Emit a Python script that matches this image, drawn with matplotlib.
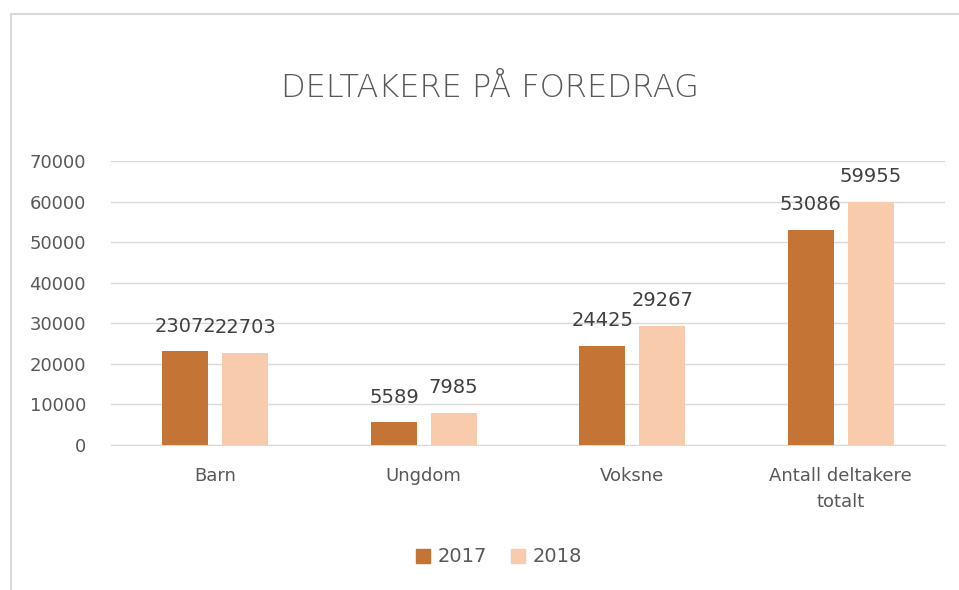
import numpy as np
import matplotlib
matplotlib.use('Agg')
import matplotlib.pyplot as plt
from matplotlib.lines import Line2D
from matplotlib.patches import Patch

# data
categories = ['Barn', 'Ungdom', 'Voksne', 'Antall deltakere\ntotalt']
years = ['2017', '2018']
vals_2017 = [23072, 5589, 24425, 53086]
vals_2018 = [22703, 7985, 29267, 59955]
yticks = [0, 10000, 20000, 30000, 40000, 50000, 60000, 70000]

col_2017 = '#C47535'
col_2018 = '#F8CBAD'
txt_grey = '#595959'
grid_grey = '#D9D9D9'

fig = plt.figure(figsize=(9.59, 5.9), dpi=100)
ax = fig.add_axes([111/959, 1 - 445/590, (945 - 111)/959, (445 - 161)/590])

x = np.arange(len(categories))
w = 0.22
off = 0.143
b1 = ax.bar(x - off, vals_2017, w, color=col_2017, zorder=3)
b2 = ax.bar(x + off, vals_2018, w, color=col_2018, zorder=3)

for bars, vals in [(b1, vals_2017), (b2, vals_2018)]:
    for r, v in zip(bars, vals):
        ax.text(r.get_x() + r.get_width()/2, v + 3900, str(v), ha='center', va='bottom',
                fontsize=14, color='#404040')

ax.set_xlim(-0.5, len(categories) - 0.5)
ax.set_ylim(0, 70000)
ax.set_yticks(yticks)
ax.set_yticklabels([str(t) for t in yticks])
ax.set_xticks(x)
ax.set_xticklabels(categories, linespacing=1.55)
ax.tick_params(axis='both', length=0, labelsize=13, labelcolor=txt_grey)
ax.tick_params(axis='y', pad=18)
ax.tick_params(axis='x', pad=16)
ax.grid(axis='y', color=grid_grey, lw=1, zorder=0)
for s in ['left', 'right', 'top']:
    ax.spines[s].set_visible(False)
ax.spines['bottom'].set_color(grid_grey)

fig.text(490/959, 1 - 88/590, 'DELTAKERE PÅ FOREDRAG', ha='center', va='center',
         fontsize=23, color=txt_grey, fontweight='light')

handles = [Patch(color=col_2017, label=years[0]), Patch(color=col_2018, label=years[1])]
fig.legend(handles=handles, loc='center', bbox_to_anchor=(499/959, 1 - 557/590), ncol=2,
           frameon=False, fontsize=14, labelcolor=txt_grey, handlelength=0.75,
           handleheight=0.75, handletextpad=0.4, columnspacing=1.2)

# outer chart frame (only left and top visible)
fig.add_artist(Line2D([10.5/959, 10.5/959], [0, 1 - 13.5/590], transform=fig.transFigure,
                      color=grid_grey, lw=1.5))
fig.add_artist(Line2D([10.5/959, 1], [1 - 13.5/590, 1 - 13.5/590], transform=fig.transFigure,
                      color=grid_grey, lw=1.5))

fig.savefig('out.png', dpi=100)
